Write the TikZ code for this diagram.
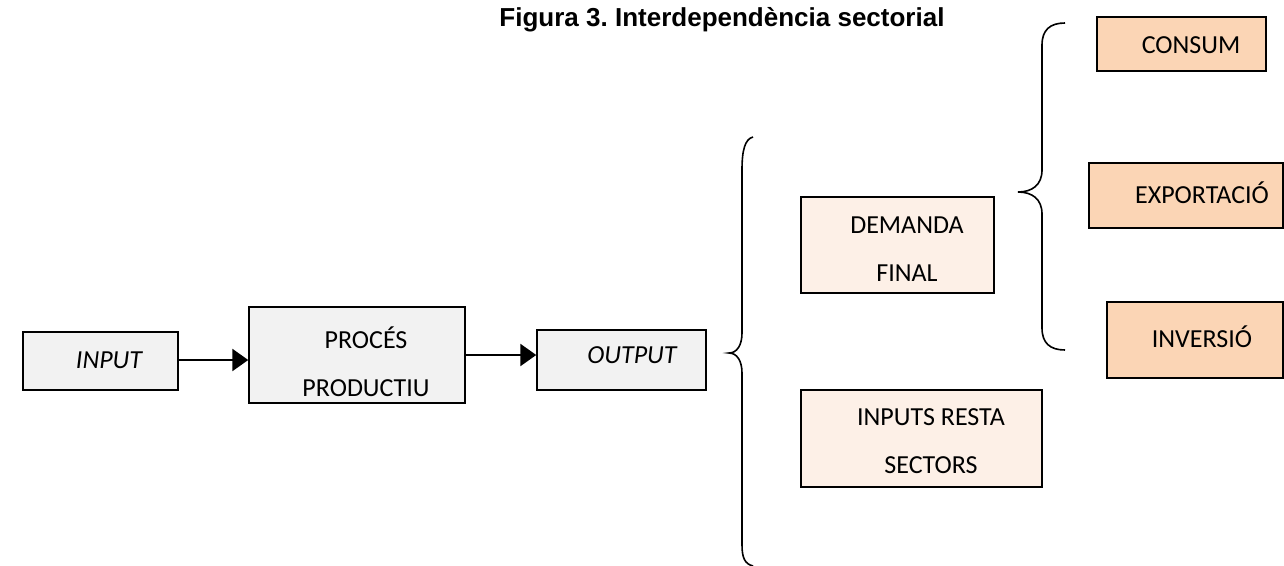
\documentclass[tikz,border=0pt]{standalone}
\usepackage{fontspec}
\setmainfont{Carlito}
\newfontfamily\titlefont{Liberation Sans}
\usetikzlibrary{arrows.meta}
\definecolor{greyfill}{HTML}{F2F2F2}
\definecolor{palefill}{HTML}{FDF0E7}
\definecolor{peachfill}{HTML}{FBD5B5}
\tikzset{
  box/.style={draw=black, line width=1.5pt, rectangle, inner sep=0pt},
  greybox/.style={box, fill=greyfill},
  palebox/.style={box, fill=palefill},
  peachbox/.style={box, fill=peachfill},
  lbl/.style={font=\fontsize{26}{48}\selectfont, align=center, inner sep=0pt},
  arr/.style={line width=2.6pt, -{Triangle[length=16pt,width=22pt]}},
  brace/.style={line width=1.6pt}
}
\begin{document}
\frenchspacing
\begin{tikzpicture}[x=1pt,y=-1pt]
\useasboundingbox (0,0) rectangle (1284,565);
% title
\node[font=\titlefont\bfseries\fontsize{26}{30}\selectfont, anchor=base, inner sep=0pt] (title) at (722,26) {Figura 3. Interdependència sectorial};
% boxes
\node[greybox, minimum width=155pt, minimum height=58pt] (in) at (100.5,361) {};
\node[greybox, minimum width=216pt, minimum height=96pt] (proc) at (357,355) {};
\node[greybox, minimum width=169pt, minimum height=60pt] (out) at (621.5,360) {};
\node[palebox, minimum width=193pt, minimum height=96pt] (dem) at (897.5,245) {};
\node[palebox, minimum width=241pt, minimum height=97pt] (irs) at (921.5,438.5) {};
\node[peachbox, minimum width=169pt, minimum height=54pt] (cons) at (1181.5,44) {};
\node[peachbox, minimum width=194pt, minimum height=65pt] (exp) at (1186,195.5) {};
\node[peachbox, minimum width=176pt, minimum height=76pt] (inv) at (1195,340) {};
% labels
\node[lbl] (inT) at (109,360) {\itshape INPUT};
\node[lbl] (procT) at (366,362) {PROCÉS\\PRODUCTIU};
\node[lbl] (outT) at (632,355) {\itshape OUTPUT};
\node[lbl] (demT) at (907,249.5) {DEMANDA\\FINAL};
\node[lbl] (irsT) at (931,441.5) {INPUTS RESTA\\SECTORS};
\node[lbl] (consT) at (1191,45) {CONSUM};
\node[lbl] (expT) at (1202,193) {EXPORTACIÓ};
\node[lbl] (invT) at (1202,337) {INVERSIÓ};
% arrows
\draw[arr] (in.east |- 0,360) -- (proc.west |- 0,360);
\draw[arr] (proc.east |- 0,355) -- (out.west |- 0,355);
% braces
\draw[brace] (753,137) .. controls (745,139) and (742,150) .. (742,170) -- (742,333)
  .. controls (742,345) and (737,353) .. (729,353)
  .. controls (737,353) and (742,361) .. (742,373) -- (742,545)
  .. controls (742,558) and (745,564) .. (753,566);
\draw[brace] (1065,23) .. controls (1050,23) and (1042,30) .. (1042,45) -- (1042,170)
  .. controls (1042,185) and (1032,192) .. (1018,192)
  .. controls (1032,192) and (1042,199) .. (1042,214) -- (1042,328)
  .. controls (1042,343) and (1050,350) .. (1065,350);
\end{tikzpicture}
\end{document}
